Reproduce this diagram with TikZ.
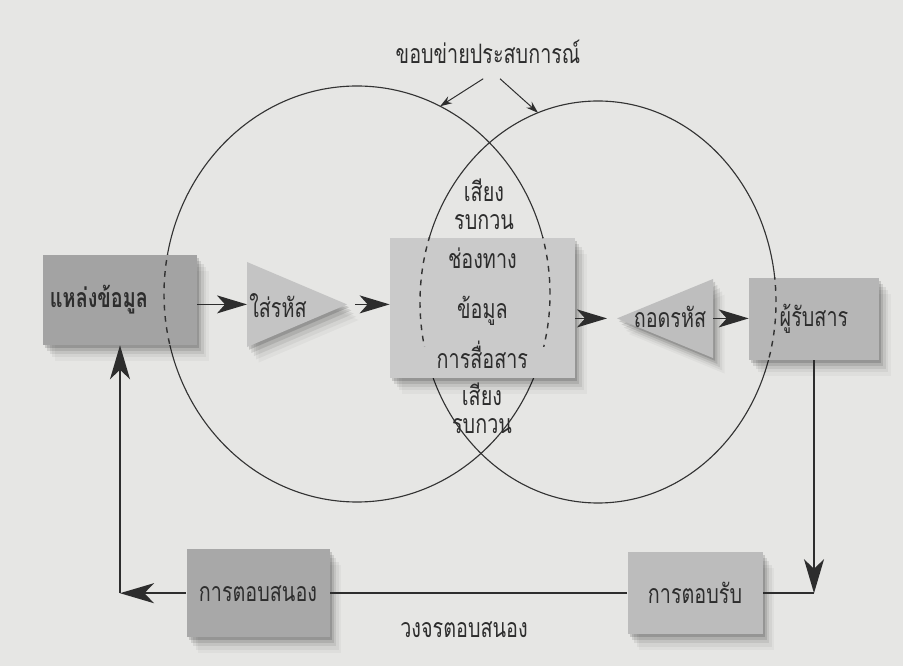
\documentclass[tikz,border=0pt]{standalone}
\usepackage{fontspec}
\usepackage{tikz}
\usetikzlibrary{calc,positioning,arrows.meta,shadows}
\newfontfamily\thai[Script=Thai,FakeStretch=0.74]{Loma}
\definecolor{paper}{RGB}{230,230,228}
\definecolor{ink}{RGB}{45,45,45}
\definecolor{srcfill}{RGB}{163,163,163}
\definecolor{encfill}{RGB}{196,196,196}
\definecolor{chanfill}{RGB}{202,202,202}
\definecolor{decfill}{RGB}{190,190,190}
\definecolor{recvfill}{RGB}{182,182,182}
\definecolor{respfill}{RGB}{168,168,168}
\definecolor{ackfill}{RGB}{188,188,188}
\tikzstyle{soft}   = [drop shadow={shadow xshift=0.5mm, shadow yshift=-0.7mm, opacity=0.14, fill=black},
                      drop shadow={shadow xshift=1.1mm, shadow yshift=-1.5mm, opacity=0.10, fill=black},
                      drop shadow={shadow xshift=1.7mm, shadow yshift=-2.3mm, opacity=0.07, fill=black},
                      drop shadow={shadow xshift=2.3mm, shadow yshift=-3.1mm, opacity=0.05, fill=black},
                      drop shadow={shadow xshift=2.9mm, shadow yshift=-3.9mm, opacity=0.03, fill=black}]
\tikzstyle{box}    = [rectangle, inner sep=0pt, text=ink, soft,
                      font=\thai\fontsize{19}{22}\selectfont]
\tikzstyle{label}  = [text=ink, align=center, font=\thai\fontsize{19}{22}\selectfont]
\tikzstyle{rim}    = [draw, line width=0.8pt, black!80]
\tikzstyle{rimdash}= [rim, line width=1pt, dash pattern=on 4pt off 4pt]
\tikzstyle{ptr}    = [draw, -{Stealth[length=7.5mm, width=4.5mm, inset=2mm]},
                      line width=1.2pt, ink]
\tikzstyle{back}   = [draw, -{Stealth[length=8.5mm, width=5mm, inset=2.4mm]},
                      line width=1.4pt, ink]
\tikzstyle{loopline} = [draw, line width=1.4pt, ink]
\tikzstyle{pointer}  = [draw, -{Stealth[length=3mm, width=2mm]}, line width=0.7pt, ink]

\begin{document}
\begin{tikzpicture}
    \fill[paper] (0,0) rectangle (22.575,16.65);
    \useasboundingbox (0,0) rectangle (22.575,16.65);

    % experience fields
    \coordinate (lring) at (8.925,9.3);
    \coordinate (rring) at (14.95,9.1);
    \draw[rim] (lring) ellipse [x radius=4.825, y radius=5.2];
    \draw[rim] (rring) ellipse [x radius=4.45, y radius=5.025];
    \path (lring) ++(64.5:4.825 and 5.2) coordinate (lhit);
    \path (rring) ++(109.7:4.45 and 5.025) coordinate (rhit);

    \node[label] (field) at (12.2,15.35) {ขอบข่ายประสบการณ์};
    \draw[pointer] ($(field.south)+(-0.12,-0.25)$) -- (lhit);
    \draw[pointer] ($(field.south)+(0.3,-0.25)$) -- (rhit);

    % sender, channel, receiver
    \node[box, fill=srcfill, minimum width=3.85cm, minimum height=2.25cm,
          text width=3.5cm, align=left, font=\thai\bfseries\fontsize{19}{22}\selectfont]
          (src) at (3.0,9.15) {แหล่งข้อมูล};

    % encoder / decoder triangles
    \coordinate (encin)  at (6.175,9.04);
    \coordinate (encout) at (8.675,9.04);
    \fill[encfill, soft] (6.175,10.1) -- (encout) -- (6.175,7.975) -- cycle;
    \node[label] (enctext) at (6.95,9.0) {ใส่รหัส};

    \node[box, fill=chanfill, minimum width=4.625cm, minimum height=3.5cm,
          align=center, font=\thai\fontsize{19}{35.6}\selectfont] (chan) at (12.06,8.95)
          {ช่องทาง\\ข้อมูล\\การสื่อสาร};

    \coordinate (decin)  at (15.425,8.69);
    \coordinate (decout) at (17.825,8.69);
    \fill[decfill, soft] (decin) -- (17.825,9.675) -- (17.825,7.7) -- cycle;
    \node[label] (dectext) at (16.75,8.72) {ถอดรหัส};

    \node[box, fill=recvfill, minimum width=3.25cm, minimum height=2.05cm]
          (recv) at (20.35,8.675) {ผู้รับสาร};

    % rims seen through the blocks
    \foreach \b in {src,recv}{
        \begin{scope}
            \clip (\b.south west) rectangle (\b.north east);
            \draw[rimdash] (lring) ellipse [x radius=4.825, y radius=5.2];
            \draw[rimdash] (rring) ellipse [x radius=4.45, y radius=5.025];
        \end{scope}
    }
    \begin{scope}
        \clip (chan.north west) rectangle ($(chan.south east)+(0,0.8)$);
        \draw[rimdash] (lring) ellipse [x radius=4.825, y radius=5.2];
        \draw[rimdash] (rring) ellipse [x radius=4.45, y radius=5.025];
    \end{scope}

    \node[label, font=\thai\fontsize{19}{20}\selectfont] (noiseup) at (12.1,11.55) {เสียง\\รบกวน};
    \node[label, font=\thai\fontsize{19}{20}\selectfont] (noisedn) at (12.05,6.45) {เสียง\\รบกวน};

    \draw[ptr] (src.east |- encin) -- (encin);
    \draw[ptr, shorten <=2mm] (encout) -- (encout -| chan.west);
    \draw[ptr, shorten >=2.5mm] (chan.east |- decin) -- (decin);
    \draw[ptr] (decout) -- (decout -| recv.west);

    % feedback loop
    \node[box, fill=respfill, minimum width=3.575cm, minimum height=2.2cm]
          (resp) at (6.45,1.82) {การตอบสนอง};
    \node[box, fill=ackfill, minimum width=3.375cm, minimum height=2.05cm]
          (ack) at (17.375,1.82) {การตอบรับ};
    \coordinate (rcorner) at (recv.south |- ack.east);
    \coordinate (lcorner) at (src.south |- resp.west);
    \draw[back] (recv.south) -- (rcorner);
    \draw[loopline] (rcorner) -- (ack.east);
    \draw[loopline] (ack.west) -- (resp.east);
    \draw[back] (resp.west) -- (lcorner);
    \draw[back] (lcorner) -- (src.south);
    \node[label] (cycle) at (11.6,0.9) {วงจรตอบสนอง};
\end{tikzpicture}
\end{document}
